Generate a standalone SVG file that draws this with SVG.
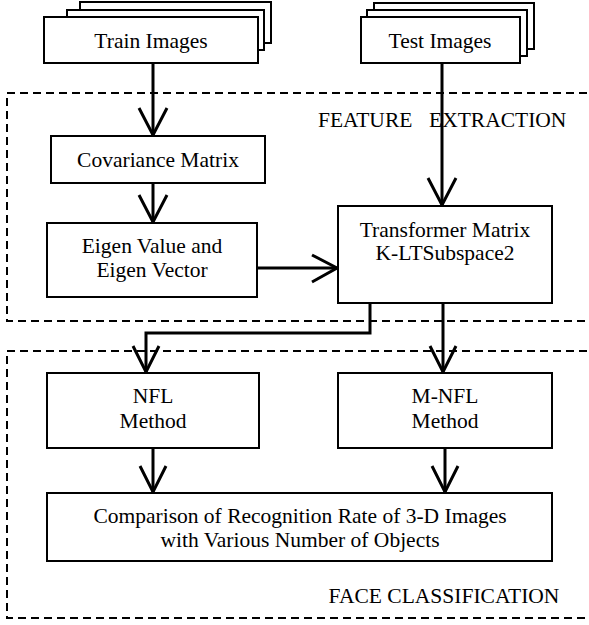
<svg xmlns="http://www.w3.org/2000/svg" width="589" height="625" viewBox="0 0 589 625">
  <style>
    .box { fill: #fff; stroke: #000; stroke-width: 2; }
    .region { fill: none; stroke: #000; stroke-width: 2; stroke-dasharray: 8 5; }
    .wire { fill: none; stroke: #000; stroke-width: 3; }
    .head { fill: none; stroke: #000; stroke-width: 3; stroke-linejoin: miter; }
    text { font-family: "Liberation Serif", "Times New Roman", serif; font-size: 21.5px; fill: #000; text-anchor: middle; }
    .left { text-anchor: start; }
  </style>

  <!-- dashed region outlines -->
  <g id="regions">
    <path class="region" d="M600,93 H7 V321 H600"/>
    <path class="region" d="M600,351 H7 V618 H600"/>
    <text class="left" x="318" y="127">FEATURE</text>
    <text class="left" x="429" y="127">EXTRACTION</text>
    <text x="444" y="603">FACE CLASSIFICATION</text>
  </g>

  <!-- connectors -->
  <g id="connectors">
    <path class="wire" d="M153,63 V135"/>
    <path class="head" d="M139,108 L153,135 L167,108"/>
    <path class="wire" d="M153,183 V222"/>
    <path class="head" d="M139,195 L153,222 L167,195"/>
    <path class="wire" d="M257,268 H337"/>
    <path class="head" d="M312,255 L337,268 L312,282"/>
    <path class="wire" d="M442,63 V205"/>
    <path class="head" d="M428,178 L442,205 L456,178"/>
    <path class="wire" d="M370,302 V333 H146 V372"/>
    <path class="head" d="M133,346 L146,372 L159,346"/>
    <path class="wire" d="M443,302 V372"/>
    <path class="head" d="M430,346 L443,372 L456,346"/>
    <path class="wire" d="M153,448 V492"/>
    <path class="head" d="M140,466 L153,492 L166,466"/>
    <path class="wire" d="M445,448 V492"/>
    <path class="head" d="M432,466 L445,492 L458,466"/>
  </g>

  <g id="train-images">
    <rect class="box" x="80" y="2" width="191" height="41"/>
    <rect class="box" x="67" y="10" width="197" height="40"/>
    <rect class="box" x="44" y="17" width="214" height="46"/>
    <text x="151" y="48">Train Images</text>
  </g>

  <g id="test-images">
    <rect class="box" x="374" y="3" width="160" height="46"/>
    <rect class="box" x="367" y="10" width="160" height="46"/>
    <rect class="box" x="361" y="17" width="159" height="46"/>
    <text x="440" y="48">Test Images</text>
  </g>

  <g id="covariance-matrix">
    <rect class="box" x="51" y="136" width="214" height="47"/>
    <text x="158" y="167">Covariance Matrix</text>
  </g>

  <g id="eigen">
    <rect class="box" x="47" y="223" width="210" height="74"/>
    <text x="152" y="253">Eigen Value and</text>
    <text x="152" y="277">Eigen Vector</text>
  </g>

  <g id="transformer-matrix">
    <rect class="box" x="338" y="206" width="214" height="97"/>
    <text x="445" y="237">Transformer Matrix</text>
    <text x="445" y="260">K-LTSubspace2</text>
  </g>

  <g id="nfl">
    <rect class="box" x="47" y="373" width="212" height="75"/>
    <text x="153" y="403">NFL</text>
    <text x="153" y="428">Method</text>
  </g>

  <g id="m-nfl">
    <rect class="box" x="338" y="373" width="214" height="75"/>
    <text x="445" y="403">M-NFL</text>
    <text x="445" y="428">Method</text>
  </g>

  <g id="comparison">
    <rect class="box" x="47" y="493" width="505" height="68"/>
    <text x="300" y="523">Comparison of Recognition Rate of 3-D Images</text>
    <text x="300" y="547">with Various Number of Objects</text>
  </g>
</svg>
